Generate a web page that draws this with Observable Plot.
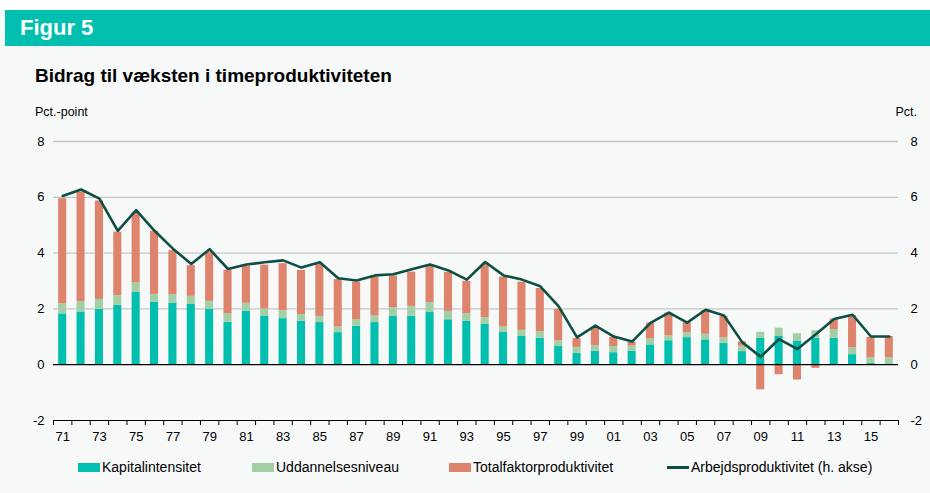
<!DOCTYPE html>
<html><head><meta charset="utf-8">
<script src="https://cdn.jsdelivr.net/npm/d3@7"></script>
<script src="https://cdn.jsdelivr.net/npm/@observablehq/plot@0.6"></script>
<style>
body{margin:0;background:#f7f9f9;font-family:"Liberation Sans",Arial,sans-serif;color:#000;}
#wrap{position:relative;width:930px;height:493px;overflow:hidden;background:#f7f9f9;}
#topwhite{position:absolute;left:0;top:0;width:930px;height:10px;background:#fff;}
#band{position:absolute;left:5px;top:10px;width:925px;height:36px;background:#00bfae;color:#fff;font-weight:bold;font-size:22px;line-height:36px;padding-left:15px;box-sizing:border-box;}
#title{position:absolute;left:35px;top:65px;font-weight:bold;font-size:19px;}
#lunit{position:absolute;left:35px;top:105px;font-size:12.5px;}
#runit{position:absolute;right:13px;top:105px;font-size:12.5px;}
#chart{position:absolute;left:0;top:130px;}
.lg{position:absolute;top:459px;font-size:14px;line-height:17px;white-space:nowrap;}
.sw{display:inline-block;width:22px;height:9px;vertical-align:middle;margin-right:2px;position:relative;top:-1px;}
.ln{display:inline-block;width:22px;height:2.5px;vertical-align:middle;margin-right:2px;background:#0d4f44;position:relative;top:-1px;}
</style></head>
<body>
<div id="wrap">
  <div id="topwhite"></div>
  <div id="band">Figur 5</div>
  <div id="title">Bidrag til væksten i timeproduktiviteten</div>
  <div id="lunit">Pct.-point</div>
  <div id="runit">Pct.</div>
  <div id="chart"></div>
  <div class="lg" style="left:78px"><span class="sw" style="background:#00bfae"></span>Kapitalintensitet</div>
  <div class="lg" style="left:252px"><span class="sw" style="background:#a3cfa6"></span>Uddannelsesniveau</div>
  <div class="lg" style="left:449px"><span class="sw" style="background:#de846c"></span>Totalfaktorproduktivitet</div>
  <div class="lg" style="left:667px"><span class="ln"></span>Arbejdsproduktivitet (h. akse)</div>
</div>
<script>
const years = [1971,1972,1973,1974,1975,1976,1977,1978,1979,1980,1981,1982,1983,1984,1985,1986,1987,1988,1989,1990,1991,1992,1993,1994,1995,1996,1997,1998,1999,2000,2001,2002,2003,2004,2005,2006,2007,2008,2009,2010,2011,2012,2013,2014,2015,2016];
const kapitalintensitet = [1.82,1.89,1.98,2.12,2.59,2.23,2.21,2.16,1.98,1.52, 1.92,1.73,1.65,1.55,1.51,1.15,1.38,1.51,1.74,1.73, 1.87,1.61,1.55,1.44,1.16,1.01,0.95,0.65,0.40,0.48, 0.43,0.48,0.71,0.86,0.97,0.89,0.77,0.47,0.94,1.01, 0.85,0.95,0.95,0.36,0.04,0.00];
const uddannelsesniveau = [0.37,0.37,0.36,0.35,0.35,0.29,0.30,0.29,0.29,0.30, 0.28,0.27,0.29,0.25,0.22,0.21,0.23,0.24,0.30,0.36, 0.36,0.30,0.27,0.24,0.20,0.22,0.23,0.21,0.22,0.20, 0.22,0.19,0.21,0.18,0.18,0.20,0.19,0.19,0.22,0.30, 0.26,0.27,0.31,0.24,0.20,0.24];
const totalfaktorproduktivitet = [3.76,3.93,3.53,2.28,2.52,2.26,1.58,1.10,1.76,1.57, 1.33,1.57,1.68,1.58,1.89,1.69,1.35,1.39,1.14,1.23, 1.30,1.40,1.17,1.92,1.78,1.73,1.55,1.13,0.32,0.66, 0.33,0.13,0.57,0.81,0.35,0.85,0.77,0.16,-0.90,-0.36, -0.55,-0.13,0.38,1.16,0.74,0.77];
const arbejdsproduktivitet = [6.05,6.28,5.95,4.80,5.54,4.80,4.16,3.61,4.14,3.43, 3.59,3.67,3.74,3.48,3.67,3.10,3.02,3.20,3.24,3.42, 3.59,3.38,3.05,3.68,3.20,3.05,2.81,2.09,0.98,1.40, 1.01,0.83,1.50,1.87,1.51,1.97,1.76,0.80,0.28,0.92, 0.56,1.09,1.64,1.79,1.01,1.01];
const seriesNames = ["Kapitalintensitet","Uddannelsesniveau","Totalfaktorproduktivitet"];
const seriesColors = ["#00bfae","#a3cfa6","#de846c"];
const yTicks = [-2,0,2,4,6,8];
const labelYears = years.filter(y => y % 2 === 1);

const seriesValues = [kapitalintensitet, uddannelsesniveau, totalfaktorproduktivitet];
const bars = [];
seriesNames.forEach((s, k) => years.forEach((yr, i) => bars.push({year: yr, series: s, value: seriesValues[k][i]})));
const lineData = years.map((yr, i) => ({year: yr, value: arbejdsproduktivitet[i]}));

const W = 930, ML = 53, MR = 32;
const step = (W - ML - MR) / years.length;

const chart = Plot.plot({
  width: W, height: 320,
  marginLeft: ML, marginRight: MR, marginTop: 11, marginBottom: 30,
  style: {background: "transparent", fontFamily: "'Liberation Sans', Arial, sans-serif", fontSize: "13px", color: "#000"},
  x: {type: "band", domain: years, paddingInner: 0.56, paddingOuter: 0.28, align: 0.5, round: false, label: null},
  y: {domain: [-2, 8], label: null},
  color: {domain: seriesNames, range: seriesColors},
  marks: [
    Plot.ruleY([2,4,6,8], {stroke: "#c6c6c6", strokeWidth: 1.3}),
    Plot.barY(bars, Plot.stackY({x: "year", y: "value", fill: "series", order: seriesNames})),
    Plot.ruleY([0], {stroke: "#000", strokeWidth: 1.3}),
    Plot.ruleY([-2], {stroke: "#000", strokeWidth: 1}),
    Plot.ruleX(years, {x: d => d, y1: -2, y2: -2, insetBottom: -5, dx: -step / 2, stroke: "#000"}),
    Plot.ruleX([years[years.length - 1]], {x: d => d, y1: -2, y2: -2, insetBottom: -5, dx: step / 2, stroke: "#000"}),
    Plot.line(lineData, {x: "year", y: "value", stroke: "#0d4f44", strokeWidth: 2.6}),
    Plot.axisY({anchor: "left", ticks: yTicks, tickFormat: d => String(d), tickSize: 0, tickPadding: 9, label: null}),
    Plot.axisY({anchor: "right", ticks: yTicks, tickFormat: d => String(d), tickSize: 0, tickPadding: 12, label: null}),
    Plot.axisX({ticks: labelYears, tickFormat: d => String(d).slice(2), tickSize: 0, tickPadding: 11, label: null})
  ]
});
document.getElementById("chart").appendChild(chart);
</script>
</body></html>
